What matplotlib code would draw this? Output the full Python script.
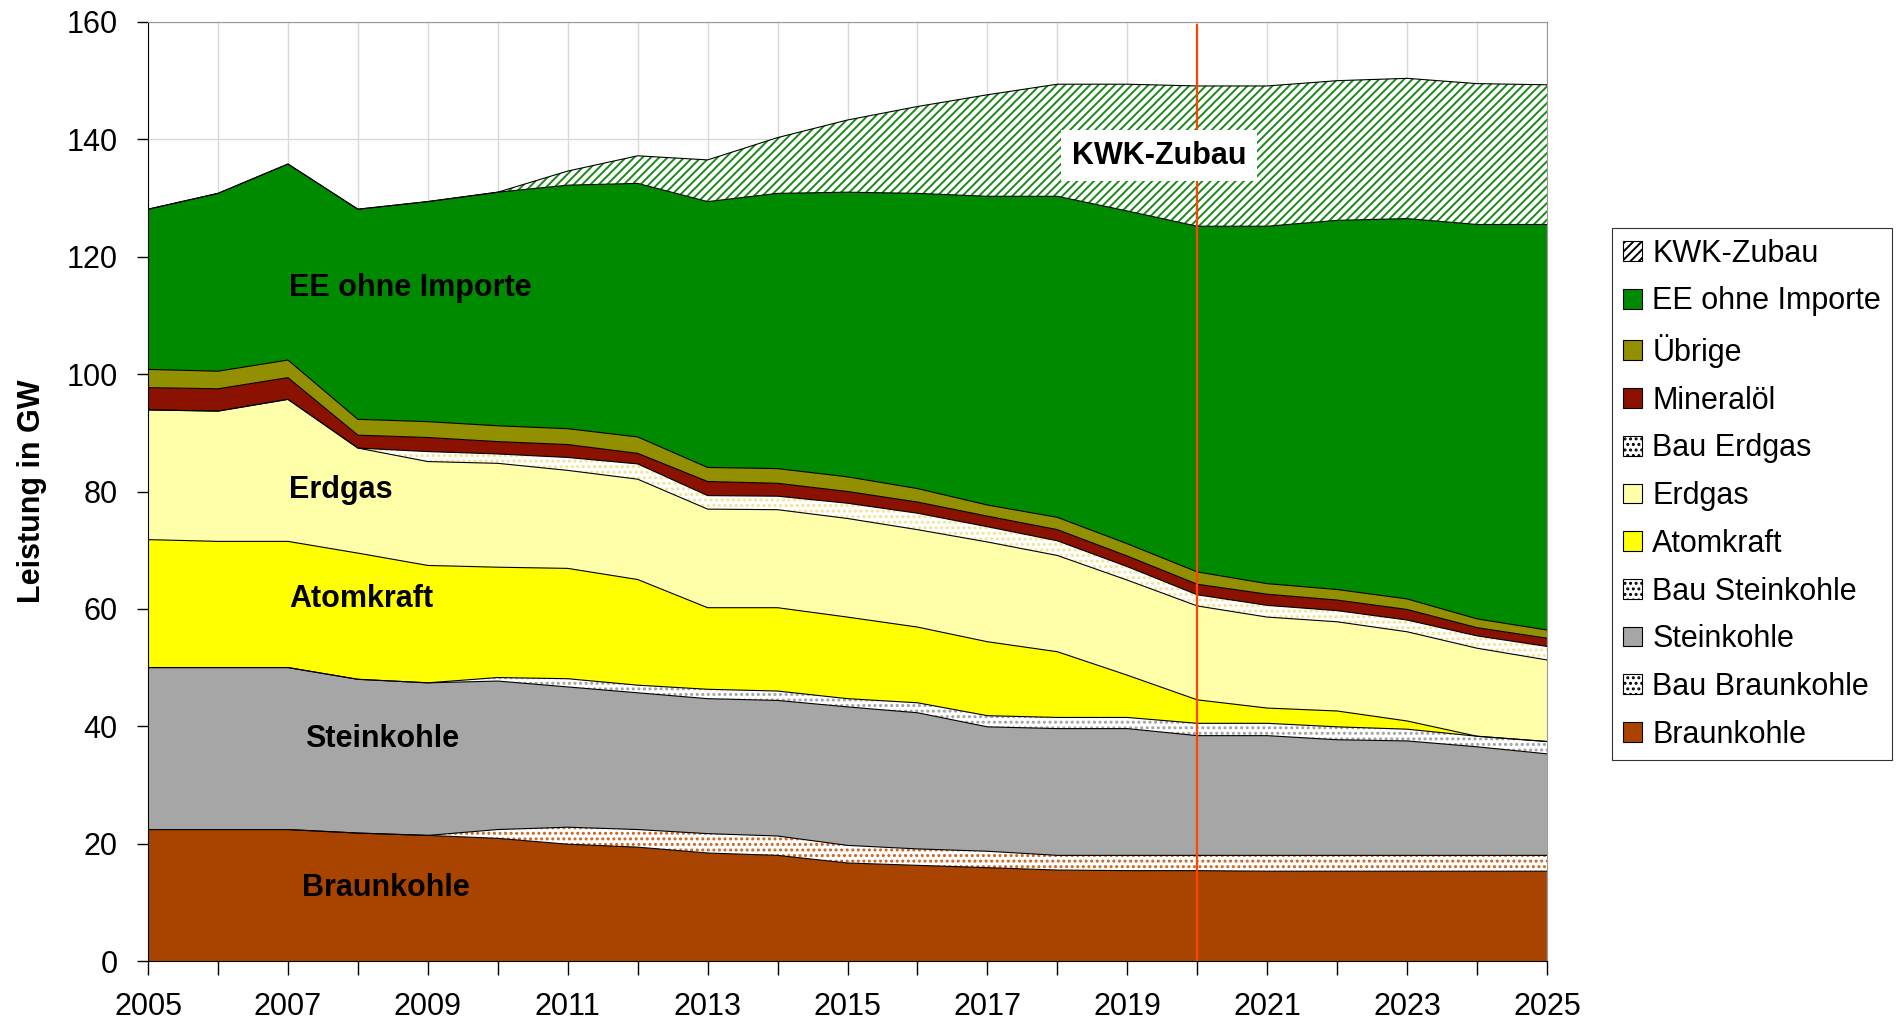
import numpy as np
import matplotlib
matplotlib.use("Agg")
import matplotlib.pyplot as plt
from matplotlib.patches import Patch

plt.rcParams['font.family'] = ['Liberation Sans', 'DejaVu Sans']
plt.rcParams['hatch.linewidth'] = 1.4

# Jahre
jahre = np.arange(2005, 2026)

# Leistung in GW je Energieträger (von unten nach oben gestapelt)
braunkohle = [22.4, 22.4, 22.4, 21.8, 21.4, 20.9, 19.9, 19.4, 18.4, 18.0, 16.7,
              16.3, 15.9, 15.5, 15.4, 15.4, 15.3, 15.3, 15.3, 15.3, 15.3]
bau_braunkohle = [0, 0, 0, 0, 0, 1.5, 2.9, 3.0, 3.3, 3.3, 3.0,
                  2.8, 2.8, 2.5, 2.6, 2.6, 2.7, 2.7, 2.7, 2.7, 2.7]
steinkohle = [27.6, 27.6, 27.6, 26.2, 26.0, 25.3, 23.9, 23.3, 23.0, 23.1, 23.6,
              23.2, 21.2, 21.6, 21.6, 20.4, 20.4, 19.7, 19.5, 18.5, 17.3]
bau_steinkohle = [0, 0, 0, 0, 0, 0.6, 1.4, 1.3, 1.6, 1.6, 1.4,
                  1.7, 1.9, 1.9, 1.9, 2.1, 2.1, 2.2, 2.0, 1.8, 2.1]
atomkraft = [21.8, 21.5, 21.5, 21.5, 20.0, 18.8, 18.8, 18.0, 13.9, 14.2, 13.9,
             12.9, 12.6, 11.2, 7.2, 4.0, 2.6, 2.7, 1.4, 0, 0]
erdgas = [22.1, 22.2, 24.2, 17.9, 17.7, 17.7, 16.7, 17.1, 16.8, 16.7, 16.8,
          16.6, 17.0, 16.4, 16.2, 16.0, 15.5, 15.2, 15.2, 15.0, 13.9]
bau_erdgas = [0, 0, 0, 0, 1.7, 1.6, 2.2, 2.6, 2.3, 2.3, 2.6,
              2.8, 2.6, 2.5, 2.3, 1.9, 2.0, 1.9, 2.0, 2.1, 2.3]
mineraloel = [3.8, 3.8, 3.7, 2.2, 2.4, 2.1, 2.2, 1.8, 2.4, 2.2, 2.0,
              1.9, 1.8, 1.9, 1.8, 1.8, 1.9, 1.8, 1.8, 1.4, 1.4]
uebrige = [3.1, 3.0, 3.0, 2.7, 2.7, 2.7, 2.7, 2.8, 2.4, 2.5, 2.5,
           2.3, 1.9, 2.1, 2.1, 2.1, 1.8, 1.8, 1.8, 1.5, 1.4]
ee = [27.3, 30.3, 33.4, 35.8, 37.5, 39.8, 41.5, 43.2, 45.3, 46.9, 48.5,
      50.3, 52.6, 54.7, 56.7, 58.9, 60.9, 62.9, 64.8, 67.2, 69.1]
kwk = [0, 0, 0, 0, 0, 0, 2.4, 4.7, 7.1, 9.5, 12.3,
       14.8, 17.3, 19.1, 21.6, 23.9, 23.9, 23.8, 23.9, 24.0, 23.8]

# (Name, Werte, Füllfarbe, Schraffur, Schraffurfarbe)
schichten = [
    ('Braunkohle', braunkohle, '#A94400', None, None),
    ('Bau Braunkohle', bau_braunkohle, 'white', '...', '#C8641E'),
    ('Steinkohle', steinkohle, '#A6A6A6', None, None),
    ('Bau Steinkohle', bau_steinkohle, 'white', '...', '#A0A0A0'),
    ('Atomkraft', atomkraft, '#FFFF00', None, None),
    ('Erdgas', erdgas, '#FFFFAA', None, None),
    ('Bau Erdgas', bau_erdgas, 'white', '...', '#F2E38C'),
    ('Mineralöl', mineraloel, '#8B1200', None, None),
    ('Übrige', uebrige, '#928F00', None, None),
    ('EE ohne Importe', ee, '#008A00', None, None),
    ('KWK-Zubau', kwk, 'white', '////', '#1A8A1A'),
]

fig = plt.figure(figsize=(18.96, 10.23), dpi=100)
ax = fig.add_axes([0.0781, 0.0606, 0.7378, 0.9179])

unten = np.zeros(len(jahre))
for name, werte, farbe, schraffur, sfarbe in schichten:
    oben = unten + np.array(werte, dtype=float)
    if schraffur:
        ax.fill_between(jahre, unten, oben, facecolor=farbe, edgecolor=sfarbe,
                        hatch=schraffur, linewidth=0, zorder=2)
    else:
        ax.fill_between(jahre, unten, oben, facecolor=farbe, linewidth=0, zorder=2)
    ax.plot(jahre, oben, color='black', linewidth=0.8, zorder=3)
    unten = oben

# Rote Linie 2020
ax.plot([2020, 2020], [0, 159.5], color='#FF4500', linewidth=1.6, zorder=4)

# Beschriftungen im Diagramm
ax.text(2008.75, 114.6, 'EE ohne Importe', fontsize=22, fontweight='bold', ha='center', va='center', zorder=5)
ax.text(2007.75, 80.2, 'Erdgas', fontsize=22, fontweight='bold', ha='center', va='center', zorder=5)
ax.text(2008.05, 61.6, 'Atomkraft', fontsize=22, fontweight='bold', ha='center', va='center', zorder=5)
ax.text(2008.35, 37.9, 'Steinkohle', fontsize=22, fontweight='bold', ha='center', va='center', zorder=5)
ax.text(2008.4, 12.5, 'Braunkohle', fontsize=22, fontweight='bold', ha='center', va='center', zorder=5)
ax.text(2019.45, 137.2, 'KWK-Zubau', fontsize=22, fontweight='bold', ha='center', va='center', zorder=5,
        bbox=dict(boxstyle='square,pad=0.35', facecolor='white', edgecolor='none'))

# Achsen
ax.set_xlim(2005, 2025)
ax.set_ylim(0, 160)
ax.set_xticks(jahre[::2])
ax.set_xticks(jahre, minor=True)
ax.set_yticks(np.arange(0, 161, 20))
ax.tick_params(axis='x', which='both', direction='out', length=10, width=1, labelsize=22, pad=12)
ax.tick_params(axis='y', direction='out', length=8, width=1, labelsize=22, pad=14)
ax.set_ylabel('Leistung in GW', fontsize=22, fontweight='bold')
ax.yaxis.set_label_coords(-0.072, 0.5)

ax.grid(True, which='both', axis='x', color='#D9D9D9', linewidth=1, zorder=0)
ax.grid(True, which='major', axis='y', color='#D9D9D9', linewidth=1, zorder=0)
ax.set_axisbelow(True)
ax.spines['left'].set_color('black')
ax.spines['bottom'].set_color('black')
ax.spines['top'].set_color('#999999')
ax.spines['right'].set_color('#999999')

# Legende
handles = []
for name, werte, farbe, schraffur, sfarbe in reversed(schichten):
    if schraffur:
        handles.append(Patch(facecolor='white', edgecolor='black', hatch=schraffur,
                             linewidth=0.8, label=name))
    else:
        handles.append(Patch(facecolor=farbe, edgecolor='black', linewidth=0.8, label=name))
leg = fig.legend(handles=handles, loc='upper left', bbox_to_anchor=(0.8502, 0.7771),
                 fontsize=22, frameon=True, fancybox=False, edgecolor='black',
                 handlelength=0.62, handleheight=0.62, handletextpad=0.35,
                 labelspacing=0.58, borderpad=0.35, borderaxespad=0)
leg.get_frame().set_linewidth(0.8)

plt.savefig('out.png', dpi=100)
